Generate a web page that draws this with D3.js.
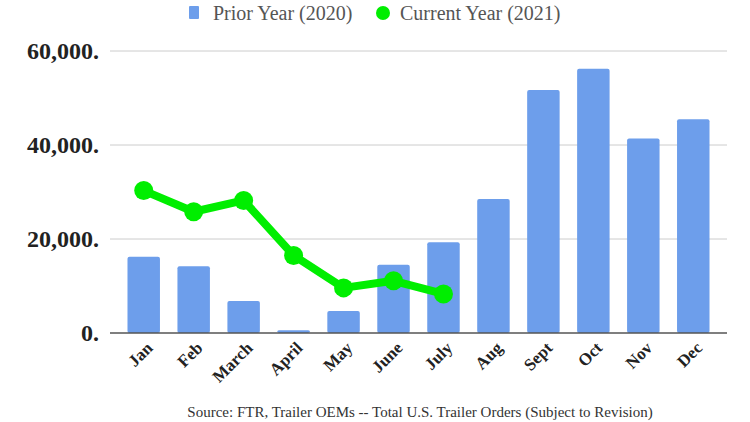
<!DOCTYPE html>
<html>
<head>
<meta charset="utf-8">
<script src="https://cdn.jsdelivr.net/npm/d3@7"></script>
<style>
  body { margin: 0; background: #fff; }
  svg { display: block; }
</style>
</head>
<body>
<div id="chart"></div>
<script>
const months = ["Jan", "Feb", "March", "April", "May", "June", "July", "Aug", "Sept", "Oct", "Nov", "Dec"];
const prior2020 = [16200, 14200, 6800, 600, 4700, 14500, 19300, 28500, 51700, 56200, 41400, 45500];
const current2021 = [30300, 25800, 28200, 16500, 9600, 11100, 8300];
const yTicks = [0, 20000, 40000, 60000];

const width = 750, height = 422;
const svg = d3.select("#chart").append("svg")
    .attr("width", width)
    .attr("height", height);

const x = d3.scaleBand()
    .domain(months)
    .range([110, 727])
    .padding(0.35);

const y = d3.scaleLinear()
    .domain([0, 60000])
    .range([333, 51]);

const serif = "'Liberation Serif', 'Times New Roman', serif";

// grid
svg.append("g")
    .selectAll("line")
    .data(yTicks.filter(d => d > 0))
    .enter()
    .append("line")
    .attr("x1", 110)
    .attr("x2", 727)
    .attr("y1", d => y(d))
    .attr("y2", d => y(d))
    .attr("stroke", "#cccccc")
    .attr("stroke-width", 1);

// y labels
svg.append("g")
    .selectAll("text")
    .data(yTicks)
    .enter()
    .append("text")
    .attr("x", 99)
    .attr("y", d => y(d) + 8)
    .attr("text-anchor", "end")
    .attr("font-family", serif)
    .attr("font-weight", "bold")
    .attr("font-size", "24px")
    .attr("fill", "#222")
    .text(d => d3.format(",")(d) + ".");

// bars
svg.append("g")
    .selectAll("rect")
    .data(prior2020)
    .enter()
    .append("rect")
    .attr("x", (d, i) => x(months[i]))
    .attr("y", d => y(d))
    .attr("width", x.bandwidth())
    .attr("height", d => y(0) - y(d))
    .attr("rx", 2)
    .attr("fill", "#6d9eeb");

// axis line
svg.append("line")
    .attr("x1", 110)
    .attr("x2", 727)
    .attr("y1", y(0))
    .attr("y2", y(0))
    .attr("stroke", "#555")
    .attr("stroke-width", 1.5);

// x labels
svg.append("g")
    .selectAll("text")
    .data(months)
    .enter()
    .append("text")
    .attr("transform", d => `translate(${x(d) + x.bandwidth() / 2 + 10},${y(0) + 16}) rotate(-45)`)
    .attr("text-anchor", "end")
    .attr("font-family", serif)
    .attr("font-weight", "bold")
    .attr("font-size", "17px")
    .attr("fill", "#222")
    .text(d => d);

// line
const line = d3.line()
    .x((d, i) => x(months[i]) + x.bandwidth() / 2)
    .y(d => y(d));

svg.append("path")
    .datum(current2021)
    .attr("d", line)
    .attr("fill", "none")
    .attr("stroke", "#00ee00")
    .attr("stroke-width", 8)
    .attr("stroke-linejoin", "round");

svg.append("g")
    .selectAll("circle")
    .data(current2021)
    .enter()
    .append("circle")
    .attr("cx", (d, i) => x(months[i]) + x.bandwidth() / 2)
    .attr("cy", d => y(d))
    .attr("r", 9.5)
    .attr("fill", "#00ee00");

// legend
const legend = svg.append("g");
legend.append("rect")
    .attr("x", 189).attr("y", 6)
    .attr("width", 10).attr("height", 13)
    .attr("rx", 1)
    .attr("fill", "#6d9eeb");
legend.append("text")
    .attr("x", 213).attr("y", 20)
    .attr("font-family", serif)
    .attr("font-size", "20px")
    .attr("fill", "#555")
    .text("Prior Year (2020)");
legend.append("circle")
    .attr("cx", 383).attr("cy", 13)
    .attr("r", 7)
    .attr("fill", "#00ee00");
legend.append("text")
    .attr("x", 400).attr("y", 20)
    .attr("font-family", serif)
    .attr("font-size", "20px")
    .attr("fill", "#555")
    .text("Current Year (2021)");

// source
svg.append("text")
    .attr("x", 420)
    .attr("y", 417)
    .attr("text-anchor", "middle")
    .attr("font-family", serif)
    .attr("font-size", "15px")
    .attr("fill", "#333")
    .text("Source: FTR, Trailer OEMs -- Total U.S. Trailer Orders (Subject to Revision)");
</script>
</body>
</html>
